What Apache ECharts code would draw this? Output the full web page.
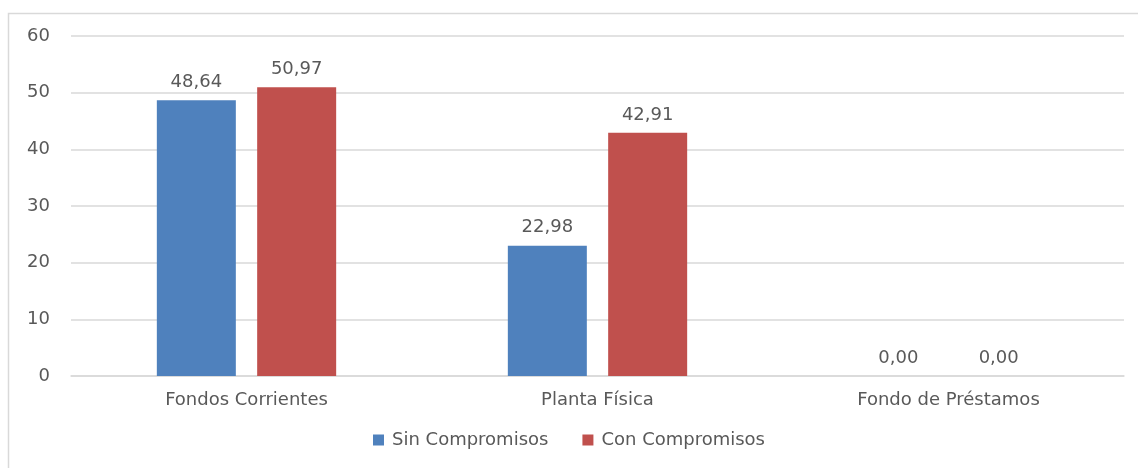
<!DOCTYPE html>
<html>
<head>
<meta charset="utf-8">
<script src="https://cdn.jsdelivr.net/npm/echarts@6/dist/echarts.min.js"></script>
<style>
html,body{margin:0;padding:0;background:#fff;}
#c{width:1138px;height:468px;}
</style>
</head>
<body>
<div id="c"></div>
<script>
const categories = ['Fondos Corrientes', 'Planta Física', 'Fondo de Préstamos'];
const sinCompromisos = [48.64, 22.98, 0.00];
const conCompromisos = [50.97, 42.91, 0.00];
const yTicks = [0, 10, 20, 30, 40, 50, 60];

const chart = echarts.init(document.getElementById('c'));
const font = '"DejaVu Sans", sans-serif';
const fs = 18;
const fmt = p => p.value.toFixed(2).replace('.', ',');
chart.setOption({
  animation: false,
  textStyle: { fontFamily: font },
  graphic: [{
    type: 'rect',
    shape: { x: 8.5, y: 13.5, width: 1200, height: 600 },
    style: { fill: 'none', stroke: '#d9d9d9', lineWidth: 1.5 },
    silent: true
  }],
  grid: { left: 71, right: 14, top: 36, bottom: 92 },
  legend: {
    bottom: 14,
    left: 'center',
    itemWidth: 11,
    itemHeight: 11,
    itemGap: 34,
    icon: 'rect',
    textStyle: { color: '#595959', fontSize: fs, fontFamily: font, padding: [0, 0, 0, 3] }
  },
  xAxis: {
    type: 'category',
    data: categories,
    axisLine: { lineStyle: { color: '#d9d9d9', width: 1.5 } },
    axisTick: { show: false },
    axisLabel: { color: '#595959', fontSize: fs, margin: 15, fontFamily: font }
  },
  yAxis: {
    type: 'value',
    min: yTicks[0],
    max: yTicks[yTicks.length - 1],
    interval: 10,
    axisLine: { show: false },
    axisTick: { show: false },
    splitLine: { lineStyle: { color: '#d9d9d9', width: 1.5 } },
    axisLabel: { color: '#595959', fontSize: fs, margin: 21, fontFamily: font }
  },
  series: [
    {
      name: 'Sin Compromisos', type: 'bar', data: sinCompromisos,
      barWidth: 79, barGap: '27%',
      itemStyle: { color: '#4F81BD' },
      label: { show: true, position: 'top', distance: 9, color: '#595959', fontSize: fs, formatter: fmt, fontFamily: font }
    },
    {
      name: 'Con Compromisos', type: 'bar', data: conCompromisos,
      barWidth: 79, barGap: '27%',
      itemStyle: { color: '#C0504D' },
      label: { show: true, position: 'top', distance: 9, color: '#595959', fontSize: fs, formatter: fmt, fontFamily: font }
    }
  ]
});
</script>
</body>
</html>
